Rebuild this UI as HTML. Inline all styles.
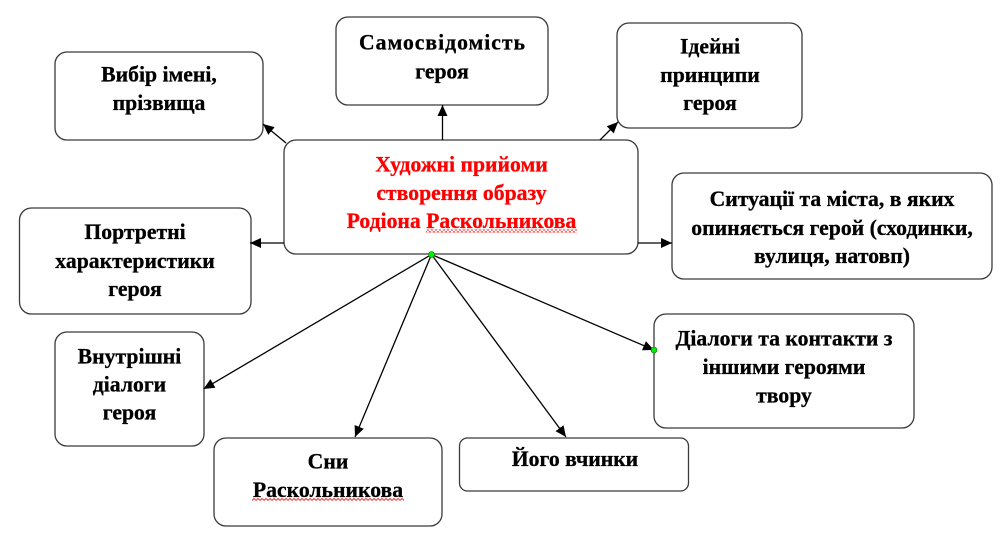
<!DOCTYPE html>
<html>
<head>
<meta charset="utf-8">
<style>
html,body{margin:0;padding:0;background:#fff;}
svg{display:block;}
svg text{font-family:"Liberation Serif","Times New Roman","Noto Serif CJK SC","DejaVu Serif",serif;font-weight:700;font-size:21.7px;text-anchor:middle;fill:#000;stroke:#000;stroke-width:0.3px;}
svg text.r{fill:#ff0000;stroke:#ff0000;}
</style>
</head>
<body>
<svg width="1007" height="542" viewBox="0 0 1007 542" xmlns="http://www.w3.org/2000/svg">
<defs>
<marker id="a" viewBox="0 0 11 10" refX="11" refY="5" markerWidth="11" markerHeight="10" orient="auto" markerUnits="userSpaceOnUse">
<path d="M0,0 L11,5 L0,10 z" fill="#000"/>
</marker>
<pattern id="sq" x="0" y="0" width="4" height="3" patternUnits="userSpaceOnUse">
<path d="M0,2.5 L2,0.5 L4,2.5" fill="none" stroke="#ff0000" stroke-width="0.8"/>
</pattern>
</defs>

<g fill="#fff" stroke="#3a3a3a" stroke-width="1.3">
<rect x="55" y="52" width="208" height="88" rx="12"/>
<rect x="336" y="17" width="212" height="88" rx="12"/>
<rect x="617" y="23" width="185" height="105" rx="12"/>
<rect x="284" y="140" width="354" height="114" rx="12"/>
<rect x="672" y="173" width="320" height="106" rx="12"/>
<rect x="19.5" y="208" width="231.5" height="106" rx="12"/>
<rect x="55" y="332" width="149" height="114" rx="12"/>
<rect x="214" y="438" width="228" height="88" rx="12"/>
<rect x="459.5" y="438" width="229" height="53" rx="8"/>
<rect x="654" y="314" width="260" height="114" rx="12"/>
</g>

<g stroke="#000" stroke-width="1.3" fill="none" marker-end="url(#a)">
<line x1="286" y1="143" x2="263" y2="124"/>
<line x1="442.5" y1="140" x2="442.5" y2="105"/>
<line x1="600" y1="140" x2="618" y2="122"/>
<line x1="284" y1="243" x2="250" y2="243"/>
<line x1="638" y1="243" x2="672" y2="243"/>
<line x1="431.5" y1="254.5" x2="203.5" y2="389"/>
<line x1="431.5" y1="254.5" x2="355" y2="437"/>
<line x1="431.5" y1="254.5" x2="566" y2="437"/>
<line x1="431.5" y1="254.5" x2="654" y2="350"/>
</g>

<circle cx="431.5" cy="254.5" r="3" fill="#00ee00" stroke="#1a6a1a" stroke-width="0.6"/>
<circle cx="654" cy="350" r="3" fill="#00ee00" stroke="#1a6a1a" stroke-width="0.6"/>

<g font-family="Liberation Serif, Times New Roman, Noto Serif CJK SC, DejaVu Serif, serif" font-weight="bold" font-size="21.7" text-anchor="middle">
<text x="159" y="81.5">Вибір імені,</text>
<text x="159" y="110">прізвища</text>

<text x="442" y="49.5" textLength="166" lengthAdjust="spacing">Самосвідомість</text>
<text x="442" y="78.5">героя</text>

<text x="710" y="53.5">Ідейні</text>
<text x="710" y="82">принципи</text>
<text x="710" y="110">героя</text>

<text class="r" x="461.5" y="171.5" fill="#ff0000">Художні прийоми</text>
<text class="r" x="461.5" y="200" fill="#ff0000">створення образу</text>
<text class="r" x="461.5" y="228" fill="#ff0000">Родіона Раскольникова</text>

<text x="832" y="206">Ситуації та міста, в яких</text>
<text x="832" y="235">опиняється герой (сходинки,</text>
<text x="832" y="263">вулиця, натовп)</text>

<text x="135" y="239">Портретні</text>
<text x="135" y="268">характеристики</text>
<text x="135" y="296">героя</text>

<text x="129.5" y="363.5">Внутрішні</text>
<text x="129.5" y="391.5">діалоги</text>
<text x="129.5" y="419.5">героя</text>

<text x="328" y="468.5">Сни</text>
<text x="328" y="497">Раскольникова</text>

<text x="575" y="466">Його вчинки</text>

<text x="784" y="345.5">Діалоги та контакти з</text>
<text x="784" y="374">іншими героями</text>
<text x="784" y="402.5">твору</text>
</g>
<rect x="426" y="229.5" width="151" height="3" fill="url(#sq)"/>
<rect x="252" y="498" width="152" height="3" fill="url(#sq)"/>
</svg>
</body>
</html>
